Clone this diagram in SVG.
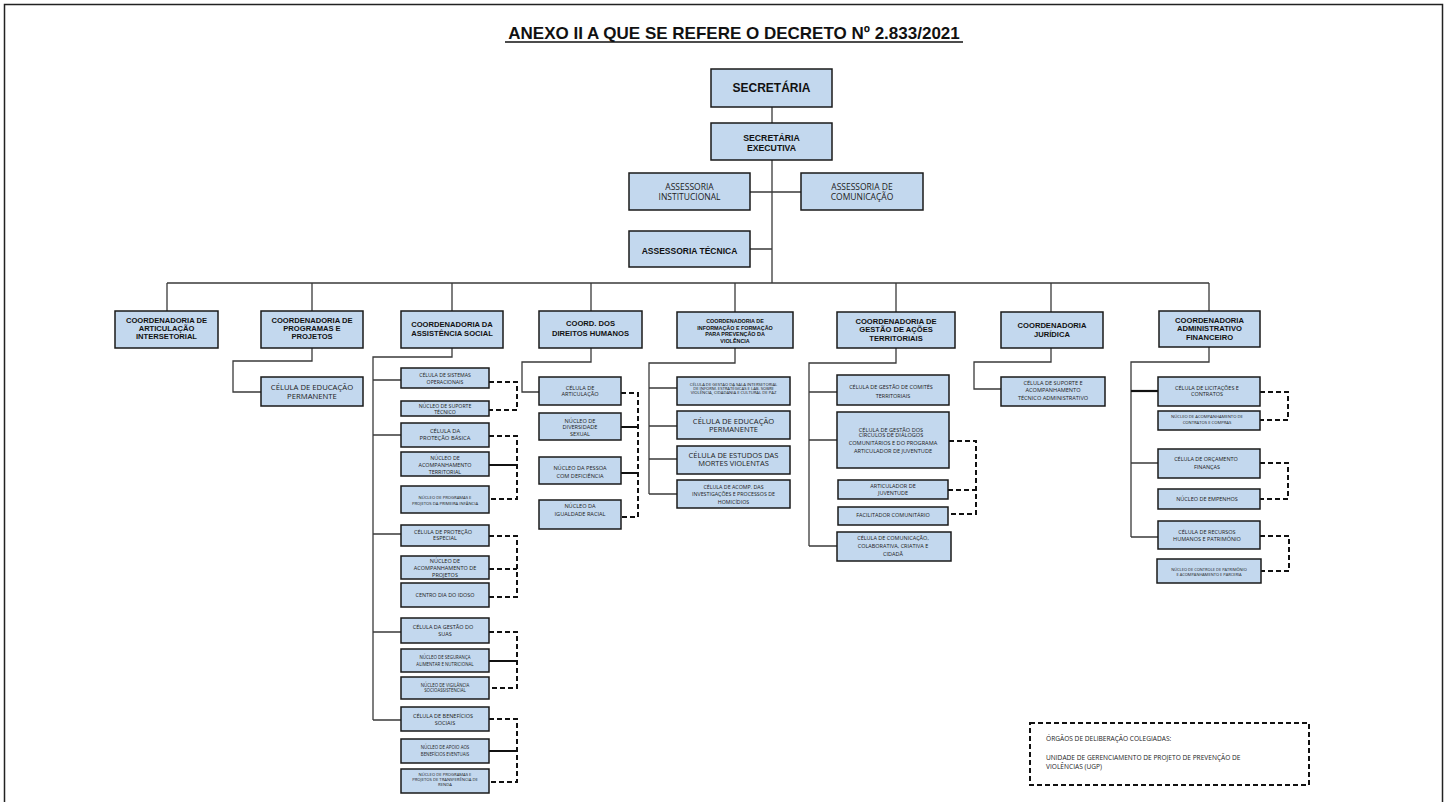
<svg xmlns="http://www.w3.org/2000/svg" width="1448" height="802" viewBox="0 0 1448 802">
<style>
.bx{fill:#c3d8ee;stroke:#1a1a1a;stroke-width:1.5}
.ln{fill:none;stroke:#3a3a3a;stroke-width:1.3}
.th{fill:none;stroke:#111;stroke-width:2.2}
.da{fill:none;stroke:#111;stroke-width:2;stroke-dasharray:5 3}
.b{font-family:"Liberation Sans",Arial,sans-serif;font-weight:bold;fill:#111;text-anchor:middle}
.t{font-family:"Open Sans","DejaVu Sans",sans-serif;fill:#222;text-anchor:middle}
.l{font-family:"Open Sans","DejaVu Sans",sans-serif;fill:#222}
</style>
<rect x="0" y="0" width="1448" height="802" fill="#fff"/>
<rect x="4.5" y="4.5" width="1438" height="830" fill="none" stroke="#222" stroke-width="1.5"/>
<g id="title">
<text class="b" x="734" y="39" font-size="17">ANEXO II A QUE SE REFERE O DECRETO Nº 2.833/2021</text>
<line x1="505" y1="42" x2="963" y2="42" stroke="#111" stroke-width="1.5"/>
</g>
<g id="connectors">
<path class="ln" d="M772 107V283M750 192H801M750 249H772M167 283H1209"/>
<path class="ln" d="M167 283V311M312 283V311M452 283V311M591 283V311M735 283V312M896 283V312M1051 283V312M1209 283V311"/>
<path class="ln" d="M312 348V361H233V392H261"/>
<path class="ln" d="M452 348V357H373V720M373 380H401M373 435H401M373 534H401M373 632H401M373 720H401"/>
<path class="da" d="M489 382H517V410H489M489 436H517V499H489M489 536H517V597H489M489 569H517M489 632H517V688H489M489 719H517V782H489"/>
<path class="th" d="M489 465H517M489 661H517M489 751H517"/>
<path class="ln" d="M591 348V362H522V392H539"/>
<path class="da" d="M621 393H638V517H621"/>
<path class="th" d="M621 427H638M621 473H638"/>
<path class="ln" d="M735 348V363H649V494M649 388H677M649 426H677M649 459H677M649 494H677"/>
<path class="ln" d="M896 348V363H809V546M809 392H837M809 440H837M809 546H837"/>
<path class="da" d="M949 441H976V514H948M948 490H976"/>
<path class="ln" d="M1051 348V362H974V389H1001"/>
<path class="ln" d="M1209 347V362H1131V537M1131 463H1158M1131 537H1158"/>
<path class="th" d="M1131 391H1158"/>
<path class="da" d="M1260 392H1288V420H1260M1260 463H1288V499H1260M1260 536H1289V571H1261"/>
</g>
<g id="secretaria"><rect class="bx" x="711" y="69" width="121" height="38"/><text class="b" x="771.5" y="92" font-size="12">SECRETÁRIA</text></g>
<g id="sec-executiva"><rect class="bx" x="711" y="123" width="121" height="37"/><text class="b" font-size="8.7"><tspan x="771.5" y="140.7">SECRETÁRIA</tspan><tspan x="771.5" y="150.7">EXECUTIVA</tspan></text></g>
<g id="ass-institucional"><rect class="bx" x="629" y="173" width="121" height="37"/><text class="t" font-size="8.5"><tspan x="689.5" y="189.7">ASSESSORIA</tspan><tspan x="689.5" y="199.7">INSTITUCIONAL</tspan></text></g>
<g id="ass-comunicacao"><rect class="bx" x="801" y="173" width="122" height="37"/><text class="t" font-size="8.5"><tspan x="862" y="189.7">ASSESSORIA DE</tspan><tspan x="862" y="199.7">COMUNICAÇÃO</tspan></text></g>
<g id="ass-tecnica"><rect class="bx" x="629" y="231" width="121" height="36"/><text class="b" x="689.5" y="253.5" font-size="8.5">ASSESSORIA TÉCNICA</text></g>

<g id="coord-articulacao"><rect class="bx" x="115" y="311" width="103" height="37"/><text class="b" font-size="7.6"><tspan x="166.5" y="322.7">COORDENADORIA DE</tspan><tspan x="166.5" y="331">ARTICULAÇÃO</tspan><tspan x="166.5" y="339.4">INTERSETORIAL</tspan></text></g>
<g id="coord-programas"><rect class="bx" x="261" y="311" width="102" height="37"/><text class="b" font-size="7.6"><tspan x="312" y="322.7">COORDENADORIA  DE</tspan><tspan x="312" y="331">PROGRAMAS E</tspan><tspan x="312" y="339.4">PROJETOS</tspan></text></g>
<g id="coord-assistencia"><rect class="bx" x="401" y="311" width="102" height="37"/><text class="b" font-size="7.6"><tspan x="452" y="326.7">COORDENADORIA  DA</tspan><tspan x="452" y="336">ASSISTÊNCIA SOCIAL</tspan></text></g>
<g id="coord-dh"><rect class="bx" x="539" y="311" width="103" height="37"/><text class="b" font-size="7.6"><tspan x="590.5" y="326.2">COORD. DOS</tspan><tspan x="590.5" y="336">DIREITOS HUMANOS</tspan></text></g>
<g id="coord-info"><rect class="bx" x="677" y="312" width="116" height="36"/><text class="b" font-size="5.4"><tspan x="735" y="322.9">COORDENADORIA DE</tspan><tspan x="735" y="329.5">INFORMAÇÃO E FORMAÇÃO</tspan><tspan x="735" y="336.1">PARA PREVENÇÃO DA</tspan><tspan x="735" y="342.7">VIOLÊNCIA</tspan></text></g>
<g id="coord-gestao"><rect class="bx" x="837" y="312" width="118" height="36"/><text class="b" font-size="7.6"><tspan x="896" y="323.8">COORDENADORIA DE</tspan><tspan x="896" y="332.3">GESTÃO DE AÇÕES</tspan><tspan x="896" y="340.8">TERRITORIAIS</tspan></text></g>
<g id="coord-juridica"><rect class="bx" x="1001" y="312" width="102" height="36"/><text class="b" font-size="7.6"><tspan x="1052" y="328.3">COORDENADORIA</tspan><tspan x="1052" y="337">JURÍDICA</tspan></text></g>
<g id="coord-admin"><rect class="bx" x="1159" y="311" width="101" height="36"/><text class="b" font-size="7.6"><tspan x="1209.5" y="322.7">COORDENADORIA</tspan><tspan x="1209.5" y="331.3">ADMINISTRATIVO</tspan><tspan x="1209.5" y="340">FINANCEIRO</tspan></text></g>

<g id="prog-edu"><rect class="bx" x="261" y="377" width="102" height="29"/><text class="t" font-size="7.7"><tspan x="312" y="389.5">CÉLULA DE EDUCAÇÃO</tspan><tspan x="312" y="398.8">PERMANENTE</tspan></text></g>

<g id="as-1"><rect class="bx" x="401" y="368" width="88" height="20"/><text class="t" font-size="5.2"><tspan x="445" y="376.8">CÉLULA DE SISTEMAS</tspan><tspan x="445" y="384.1">OPERACIONAIS</tspan></text></g>
<g id="as-2"><rect class="bx" x="401" y="401" width="88" height="15"/><text class="t" font-size="5.2"><tspan x="445" y="407.8">NÚCLEO DE SUPORTE</tspan><tspan x="445" y="413.5">TÉCNICO</tspan></text></g>
<g id="as-3"><rect class="bx" x="401" y="423" width="88" height="24"/><text class="t" font-size="5.8"><tspan x="445" y="432.7">CÉLULA DA</tspan><tspan x="445" y="440.4">PROTEÇÃO BÁSICA</tspan></text></g>
<g id="as-4"><rect class="bx" x="401" y="452" width="88" height="24"/><text class="t" font-size="5.4"><tspan x="445" y="459.5">NÚCLEO DE</tspan><tspan x="445" y="466.8">ACOMPANHAMENTO</tspan><tspan x="445" y="474.1">TERRITORIAL</tspan></text></g>
<g id="as-5"><rect class="bx" x="401" y="486" width="88" height="27"/><text class="t" font-size="4.2"><tspan x="445" y="499">NÚCLEO DE PROGRAMAS E</tspan><tspan x="445" y="505.3">PROJETOS DA PRIMEIRA INFÂNCIA</tspan></text></g>
<g id="as-6"><rect class="bx" x="401" y="525" width="88" height="21"/><text class="t" font-size="5.5"><tspan x="443" y="533.6">CÉLULA  DE PROTEÇÃO</tspan><tspan x="445" y="539.6">ESPECIAL</tspan></text></g>
<g id="as-7"><rect class="bx" x="401" y="556" width="88" height="23"/><text class="t" font-size="5.5"><tspan x="445" y="562.8">NÚCLEO DE</tspan><tspan x="445" y="570.1">ACOMPANHAMENTO DE</tspan><tspan x="445" y="576.9">PROJETOS</tspan></text></g>
<g id="as-8"><rect class="bx" x="401" y="583" width="88" height="24"/><text class="t" x="445" y="596.8" font-size="5.4">CENTRO DIA DO IDOSO</text></g>
<g id="as-9"><rect class="bx" x="401" y="618" width="88" height="25"/><text class="t" font-size="5.5"><tspan x="443" y="628.6">CÉLULA DA GESTÃO DO</tspan><tspan x="445" y="636">SUAS</tspan></text></g>
<g id="as-10"><rect class="bx" x="401" y="649" width="88" height="23"/><text class="t" font-size="4.4"><tspan x="445" y="658.7">NÚCLEO DE SEGURANÇA</tspan><tspan x="445" y="665.7">ALIMENTAR E NUTRICIONAL</tspan></text></g>
<g id="as-11"><rect class="bx" x="401" y="677" width="88" height="22"/><text class="t" font-size="4.4"><tspan x="445" y="687.2">NÚCLEO DE VIGILÂNCIA</tspan><tspan x="445" y="692.4">SOCIOASSISTENCIAL</tspan></text></g>
<g id="as-12"><rect class="bx" x="401" y="707" width="88" height="24"/><text class="t" font-size="5.5"><tspan x="443" y="717.9">CÉLULA  DE BENEFÍCIOS</tspan><tspan x="445" y="724.6">SOCIAIS</tspan></text></g>
<g id="as-13"><rect class="bx" x="401" y="739" width="88" height="24"/><text class="t" font-size="4.4"><tspan x="445" y="749.2">NÚCLEO DE APOIO AOS</tspan><tspan x="445" y="755.8">BENEFÍCIOS EVENTUAIS</tspan></text></g>
<g id="as-14"><rect class="bx" x="401" y="769" width="88" height="24"/><text class="t" font-size="4.2"><tspan x="445" y="775.5">NÚCLEO DE PROGRAMAS E</tspan><tspan x="445" y="781">PROJETOS DE TRANSFERÊNCIA DE</tspan><tspan x="445" y="786.4">RENDA</tspan></text></g>

<g id="dh-1"><rect class="bx" x="539" y="377" width="82" height="28"/><text class="t" font-size="5.6"><tspan x="580" y="389.6">CÉLULA DE</tspan><tspan x="580" y="395.9">ARTICULAÇÃO</tspan></text></g>
<g id="dh-2"><rect class="bx" x="539" y="413" width="82" height="27"/><text class="t" font-size="5.6"><tspan x="580" y="422.6">NÚCLEO DE</tspan><tspan x="580" y="429.3">DIVERSIDADE</tspan><tspan x="580" y="436.1">SEXUAL</tspan></text></g>
<g id="dh-3"><rect class="bx" x="539" y="457" width="82" height="27"/><text class="t" font-size="5.6"><tspan x="580" y="470.2">NÚCLEO DA PESSOA</tspan><tspan x="580" y="477.9">COM DEFICIÊNCIA</tspan></text></g>
<g id="dh-4"><rect class="bx" x="539" y="500" width="82" height="29"/><text class="t" font-size="5.6"><tspan x="580" y="508">NÚCLEO DA</tspan><tspan x="580" y="515.5">IGUALDADE RACIAL</tspan></text></g>

<g id="in-1"><rect class="bx" x="677" y="377" width="113" height="28"/><text class="t" font-size="4.2"><tspan x="733.5" y="385.7">CÉLULA  DE GESTÃO DA SALA INTERSETORIAL</tspan><tspan x="733.5" y="389.9">DE INFORM. ESTRATÉGICAS E LAB. SOBRE</tspan><tspan x="733.5" y="394.1">VIOLÊNCIA, CIDADANIA E CULTURAL DE PAZ</tspan></text></g>
<g id="in-2"><rect class="bx" x="677" y="411" width="113" height="28"/><text class="t" font-size="7.6"><tspan x="733.5" y="423.7">CÉLULA DE EDUCAÇÃO</tspan><tspan x="733.5" y="432">PERMANENTE</tspan></text></g>
<g id="in-3"><rect class="bx" x="677" y="446" width="113" height="28"/><text class="t" font-size="7.5"><tspan x="733.5" y="457.7">CÉLULA DE ESTUDOS DAS</tspan><tspan x="733.5" y="466">MORTES VIOLENTAS</tspan></text></g>
<g id="in-4"><rect class="bx" x="677" y="480" width="113" height="28"/><text class="t" font-size="5.3"><tspan x="733.5" y="488.6">CÉLULA  DE ACOMP. DAS</tspan><tspan x="733.5" y="496.2">INVESTIGAÇÕES E PROCESSOS DE</tspan><tspan x="733.5" y="503.6">HOMICÍDIOS</tspan></text></g>

<g id="gt-1"><rect class="bx" x="837" y="375" width="112" height="30"/><text class="t" font-size="5.5"><tspan x="891" y="389.2">CÉLULA  DE GESTÃO DE COMITÊS</tspan><tspan x="893" y="397.9">TERRITORIAIS</tspan></text></g>
<g id="gt-2"><rect class="bx" x="837" y="412" width="112" height="56"/><text class="t" font-size="5.6"><tspan x="891" y="431.5">CÉLULA  DE GESTÃO DOS</tspan><tspan x="891" y="437.3">CÍRCULOS DE DIÁLOGOS</tspan><tspan x="893" y="444.7">COMUNITÁRIOS E DO PROGRAMA</tspan><tspan x="893" y="452.6">ARTICULADOR DE JUVENTUDE</tspan></text></g>
<g id="gt-3"><rect class="bx" x="838" y="480" width="110" height="19"/><text class="t" font-size="5.5"><tspan x="893" y="487.9">ARTICULADOR DE</tspan><tspan x="893" y="494.6">JUVENTUDE</tspan></text></g>
<g id="gt-4"><rect class="bx" x="838" y="507" width="110" height="18"/><text class="t" x="893" y="516.9" font-size="5.5">FACILITADOR COMUNITÁRIO</text></g>
<g id="gt-5"><rect class="bx" x="837" y="532" width="114" height="29"/><text class="t" font-size="5.5"><tspan x="893" y="540.2">CÉLULA DE COMUNICAÇÃO,</tspan><tspan x="893" y="547.9">COLABORATIVA, CRIATIVA E</tspan><tspan x="893" y="555.9">CIDADÃ</tspan></text></g>

<g id="ju-1"><rect class="bx" x="1001" y="377" width="104" height="29"/><text class="t" font-size="5.6"><tspan x="1053" y="385.3">CÉLULA DE SUPORTE E</tspan><tspan x="1053" y="392">ACOMPANHAMENTO</tspan><tspan x="1053" y="399.7">TÉCNICO ADMINISTRATIVO</tspan></text></g>

<g id="ad-1"><rect class="bx" x="1158" y="377" width="102" height="29"/><text class="t" font-size="5.5"><tspan x="1207" y="389.6">CÉLULA DE LICITAÇÕES E</tspan><tspan x="1207" y="395.9">CONTRATOS</tspan></text></g>
<g id="ad-2"><rect class="bx" x="1158" y="411" width="102" height="19"/><text class="t" font-size="4.2"><tspan x="1207" y="418.2">NÚCLEO DE ACOMPANHAMENTO DE</tspan><tspan x="1207" y="423.8">CONTRATOS E COMPRAS</tspan></text></g>
<g id="ad-3"><rect class="bx" x="1158" y="449" width="102" height="29"/><text class="t" font-size="5.5"><tspan x="1206" y="460.9">CÉLULA DE ORÇAMENTO</tspan><tspan x="1207" y="468.6">FINANÇAS</tspan></text></g>
<g id="ad-4"><rect class="bx" x="1158" y="489" width="102" height="20"/><text class="t" x="1207" y="500.9" font-size="5.5">NÚCLEO DE EMPENHOS</text></g>
<g id="ad-5"><rect class="bx" x="1158" y="521" width="102" height="28"/><text class="t" font-size="5.5"><tspan x="1207" y="534.2">CÉLULA DE RECURSOS</tspan><tspan x="1207" y="540.9">HUMANOS E PATRIMÔNIO</tspan></text></g>
<g id="ad-6"><rect class="bx" x="1157" y="559" width="104" height="24"/><text class="t" font-size="4"><tspan x="1209" y="570.7">NÚCLEO DE CONTROLE DE PATRIMÔNIO</tspan><tspan x="1209" y="575.7">E ACOMPANHAMENTO E PARCERIA</tspan></text></g>

<g id="legend">
<rect x="1030" y="723" width="279" height="62" fill="none" stroke="#111" stroke-width="2" stroke-dasharray="5 3"/>
<text class="l" font-size="6.6"><tspan x="1046" y="741">ÓRGÃOS DE DELIBERAÇÃO COLEGIADAS:</tspan><tspan x="1046" y="760">UNIDADE DE GERENCIAMENTO DE PROJETO DE PREVENÇÃO DE</tspan><tspan x="1046" y="769">VIOLÊNCIAS (UGP)</tspan></text>
</g>
</svg>
